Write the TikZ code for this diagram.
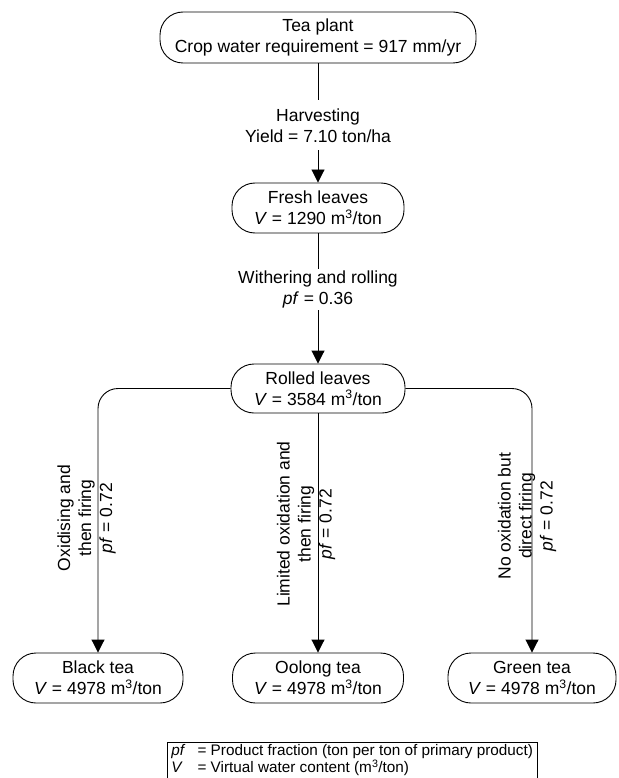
\documentclass[tikz,border=0pt]{standalone}
\usepackage{fontspec}
\setmainfont{Liberation Sans}
\usetikzlibrary{arrows.meta}
\begin{document}
\begin{tikzpicture}[x=1pt,y=-1pt,
  box/.style={draw, line width=0.9pt, rounded corners=23pt, align=center, inner sep=0pt,
    minimum height=50pt, font=\fontsize{17.5}{21}\selectfont},
  conn/.style={line width=0.9pt, -{Triangle[width=13pt,length=13pt]}},
  lab/.style={align=center, inner sep=1pt, font=\fontsize{17.5}{21}\selectfont},
  gaplab/.style={lab, fill=white},
]
\useasboundingbox (0,0) rectangle (618,778);
\node[box, minimum width=316pt, minimum height=51pt] (tea) at (318,37.5) {Tea plant\\Crop water requirement = 917 mm/yr};
\node[box, minimum width=172pt] (fresh) at (318,208) {Fresh leaves\\\textit{V} = 1290 m\textsuperscript{3}/ton};
\node[box, minimum width=174pt, minimum height=49pt] (rolled) at (318,388.5) {Rolled leaves\\\textit{V} = 3584 m\textsuperscript{3}/ton};
\node[box, minimum width=170pt] (black) at (98,678) {Black tea\\\textit{V} = 4978 m\textsuperscript{3}/ton};
\node[box, minimum width=171pt] (oolong) at (318,678) {Oolong tea\\\textit{V} = 4978 m\textsuperscript{3}/ton};
\node[box, minimum width=168pt] (green) at (532,678) {Green tea\\\textit{V} = 4978 m\textsuperscript{3}/ton};

\draw[conn] (tea) -- node[gaplab, inner ysep=8pt, pos=0.52] (harv) {Harvesting\\Yield = 7.10 ton/ha} (fresh);
\draw[conn] (fresh) -- node[gaplab, inner ysep=2pt, pos=0.43] (with) {Withering and rolling\\\textit{pf} = 0.36} (rolled);
\draw[conn, rounded corners=20pt] (rolled.west) -| (black.north);
\draw[conn] (rolled) -- (oolong);
\draw[conn, rounded corners=20pt] (rolled.east) -| (green.north);

\node[lab, rotate=90] (lblack) at (86.5,518) {Oxidising and\\then firing\\\textit{pf} = 0.72};
\node[lab, rotate=90] (loolong) at (306,524) {Limited oxidation and\\then firing\\\textit{pf} = 0.72};
\node[lab, rotate=90] (lgreen) at (527,516) {No oxidation but\\direct firing\\\textit{pf} = 0.72};

\node[draw, line width=0.9pt, anchor=north west, inner xsep=4pt, inner ysep=1.5pt,
  font=\fontsize{15.3}{15}\selectfont] (legend) at (167,742)
  {\begin{tabular}{@{}l@{\hspace{12pt}}l@{}}
   \textit{pf} & = Product fraction (ton per ton of primary product)\\
   \textit{V} & = Virtual water content (m\textsuperscript{3}/ton)
   \end{tabular}};
\end{tikzpicture}
\end{document}
